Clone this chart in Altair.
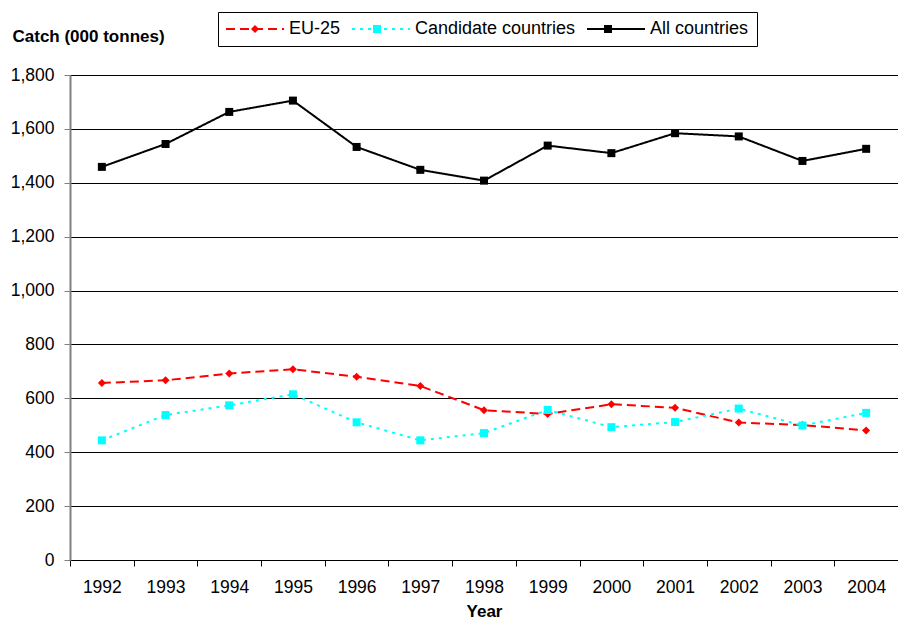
import altair as alt
import pandas as pd

years = [str(y) for y in range(1992, 2005)]
eu25 = [657, 667, 692, 708, 680, 646, 556, 542, 578, 565, 510, 501, 481]
candidate = [444, 538, 574, 615, 511, 444, 471, 557, 493, 512, 562, 499, 546]
all_countries = [1459, 1544, 1663, 1705, 1533, 1448, 1408, 1538, 1510, 1584, 1572, 1481, 1526]
series_names = ["EU-25", "Candidate countries", "All countries"]
series_colors = ["#FF0000", "#00FFFF", "#000000"]
y_ticks = [0, 200, 400, 600, 800, 1000, 1200, 1400, 1600, 1800]

rows = []
for name, vals in zip(series_names, [eu25, candidate, all_countries]):
    for yr, v in zip(years, vals):
        rows.append({"Year": yr, "Catch": v, "Series": name, "Marker": name})
df = pd.DataFrame(rows)

FONT = "Liberation Sans"
SYM_W = 58          # legend line-symbol length
MARK_SIZE = 64      # marker area (8 px)
MARK_W = 8
LEG_X = 148
LEG_Y = -63
HALF = SYM_W / MARK_W  # half-length in unit path coords

x_enc = alt.X(
    "Year:O",
    scale=alt.Scale(type="band", paddingInner=0, paddingOuter=0),
    axis=alt.Axis(
        title="Year", tickBand="extent", labelAngle=0, labelFontSize=17.5,
        labelColor="black", labelPadding=12, tickSize=6, tickColor="black",
        domainColor="black", titleFontSize=17, titleFontWeight="bold",
        titleY=56, titleBaseline="alphabetic", grid=False,
        labelFont=FONT, titleFont=FONT, titleColor="black",
    ),
)
y_enc = alt.Y(
    "Catch:Q",
    scale=alt.Scale(domain=[0, 1800]),
    axis=alt.Axis(
        values=y_ticks, format=",.0f", title="Catch (000 tonnes)", titleAngle=0,
        titleX=-58, titleY=-34, titleAlign="left", titleBaseline="alphabetic",
        titleFontSize=17, titleFontWeight="bold", titleColor="black",
        labelFontSize=17.5, labelColor="black", tickSize=6, tickColor="#808080",
        domainColor="#808080", domainWidth=2, gridColor="black",
        gridOpacity=1, gridWidth=1, labelPadding=10, labelFont=FONT,
        titleFont=FONT,
    ),
)

common = dict(
    title=None, orient="none", direction="horizontal", legendX=LEG_X,
    legendY=LEG_Y, padding=8, labelFontSize=18, labelFont=FONT,
    labelLimit=400, symbolSize=MARK_SIZE, columnPadding=7,
    labelOffset=25, symbolOffset=20,
)
line_legend = alt.Legend(
    strokeColor="black", fillColor="white", labelColor="black",
    symbolType=f"M-{HALF},0H{HALF}", symbolStrokeWidth=2, **common,
)
marker_legend = alt.Legend(
    labelOpacity=0, symbolStrokeWidth=0, **common,
)

color = alt.Color(
    "Series:N",
    scale=alt.Scale(domain=series_names, range=series_colors),
    sort=series_names,
    legend=line_legend,
)
dash = alt.StrokeDash(
    "Series:N",
    scale=alt.Scale(domain=series_names, range=[[9, 5], [3, 5], [1, 0]]),
    sort=series_names,
    legend=line_legend,
)

lines = alt.Chart(df).mark_line(strokeWidth=2).encode(
    x=x_enc, y=y_enc, color=color, strokeDash=dash
)
points = alt.Chart(df).mark_point(filled=True, opacity=1, strokeWidth=0).encode(
    x=x_enc,
    y=y_enc,
    fill=alt.Fill(
        "Marker:N",
        scale=alt.Scale(domain=series_names, range=series_colors),
        sort=series_names,
        legend=marker_legend,
    ),
    shape=alt.Shape(
        "Marker:N",
        scale=alt.Scale(domain=series_names, range=["diamond", "square", "square"]),
        sort=series_names,
        legend=marker_legend,
    ),
    size=alt.value(MARK_SIZE),
)

chart = (
    alt.layer(lines, points)
    .resolve_legend(color="independent", fill="independent",
                    shape="independent", strokeDash="independent")
    .resolve_scale(color="independent", fill="independent",
                   shape="independent", strokeDash="independent")
    .properties(
        width=828, height=485,
        autosize=alt.AutoSizeParams(type="none"),
        padding={"left": 62, "top": 67, "right": 0, "bottom": 60},
    )
    .configure_view(stroke=None)
    .configure(font=FONT)
)

chart.save("out.html", embed_options={"renderer": "svg", "actions": False})
